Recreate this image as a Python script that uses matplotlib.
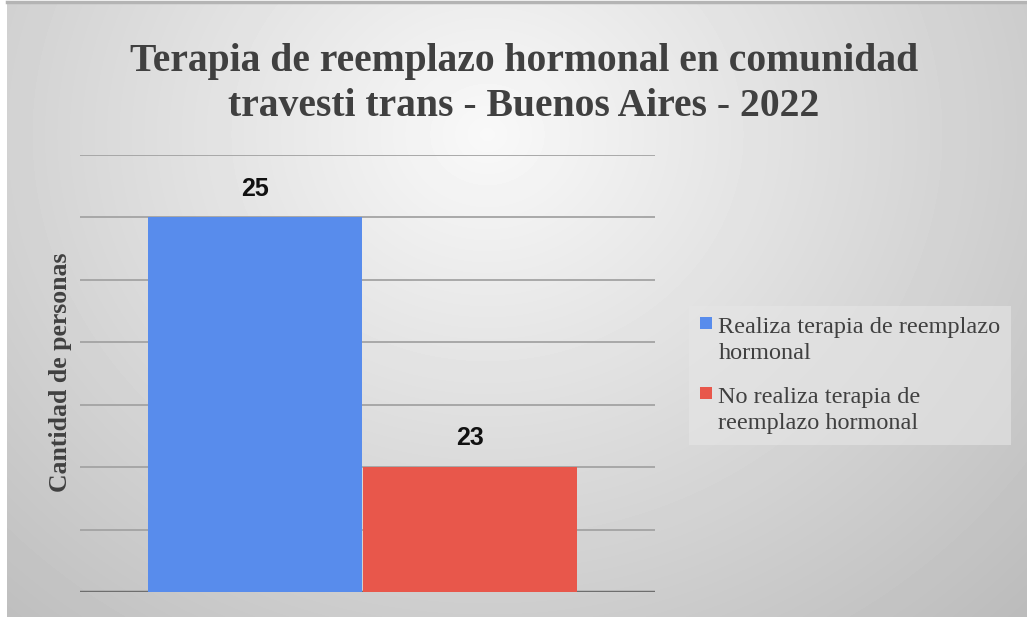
import matplotlib
matplotlib.use("Agg")
import matplotlib.pyplot as plt
import numpy as np
from matplotlib.patches import Patch, Rectangle
from matplotlib.legend_handler import HandlerPatch

# datos
series = ["Realiza terapia de reemplazo\nhormonal", "No realiza terapia de\nreemplazo hormonal"]
valores = [25, 23]
colores = ["#588cec", "#e8574b"]
titulo = "Terapia de reemplazo hormonal en comunidad\ntravesti trans - Buenos Aires - 2022"
ylabel = "Cantidad de personas"

W, H = 1027, 621
fig = plt.figure(figsize=(W / 100, H / 100), dpi=100, facecolor="white")

# fondo con degradado radial gris
bg = fig.add_axes([7 / W, 4 / H, 1020 / W, 613 / H], zorder=-10)
yy, xx = np.mgrid[0:613, 0:1020]
d = np.sqrt(((xx - 480) / 700.0) ** 2 + ((yy - 130) / 620.0) ** 2)
shade = np.clip(0.975 - 0.22 * d, 0.72, 1.0)
bg.imshow(shade, cmap="gray", vmin=0, vmax=1, aspect="auto", interpolation="bilinear")
bg.axis("off")
fig.add_artist(plt.Line2D([7 / W, 1], [1 - 2 / H, 1 - 2 / H], color="#b4b4b4", lw=2.5))

ax = fig.add_axes([80 / W, (H - 592) / H, 575 / W, (592 - 155) / H])
ax.set_facecolor("none")
ancho = 0.372
xs = [-0.196, 0.179]
barras = ax.bar(xs, valores, width=ancho, color=colores, zorder=2)
for b, v in zip(barras, valores):
    ax.annotate(str(v), (b.get_x() + b.get_width() / 2, v), xytext=(0, 12),
                textcoords="offset points", ha="center", va="bottom",
                fontsize=18, fontweight="bold", family="Liberation Sans", color="#111111")

ax.set_xlim(-0.5, 0.5)
ax.set_ylim(22, 25.5)
ax.set_yticks(np.arange(22.5, 25.6, 0.5))
ax.grid(axis="y", color="#a3a3a3", linewidth=1.3, zorder=0)
ax.axhline(22, color="#6e6e6e", linewidth=2.5, zorder=1)
ax.tick_params(left=False, bottom=False, labelleft=False, labelbottom=False)
for s in ax.spines.values():
    s.set_visible(False)

fig.text(60 / W, 1 - 372 / H, ylabel, rotation=90, ha="center", va="center",
         fontsize=18.5, fontweight="bold", family="Liberation Serif", color="#404040")

fig.text(524 / W, 1 - 84 / H, titulo, ha="center", va="center", fontsize=28.5,
         fontweight="bold", family="Liberation Serif", color="#404040", linespacing=1.3)


def cuadro(legend, orig_handle, xdescent, ydescent, width, height, fontsize):
    s = 0.5 * fontsize
    return Rectangle((-xdescent, 0.8 * fontsize), s, s)


handles = [Patch(facecolor=c) for c in colores]
leg = fig.legend(handles, series, loc="upper left", bbox_to_anchor=(677 / W, 1 - 294 / H),
                 frameon=True, fancybox=False, facecolor="#e6e6e6", edgecolor="none",
                 framealpha=0.6, handlelength=0.5, handleheight=0.5, handletextpad=0.25,
                 labelspacing=0.95, borderpad=0.45,
                 handler_map={Patch: HandlerPatch(patch_func=cuadro)},
                 prop={"family": "Liberation Serif", "size": 17.5})
for t in leg.get_texts():
    t.set_color("#404040")
    t.set_linespacing(1.3)

fig.savefig("out.png", dpi=100, facecolor="white")
